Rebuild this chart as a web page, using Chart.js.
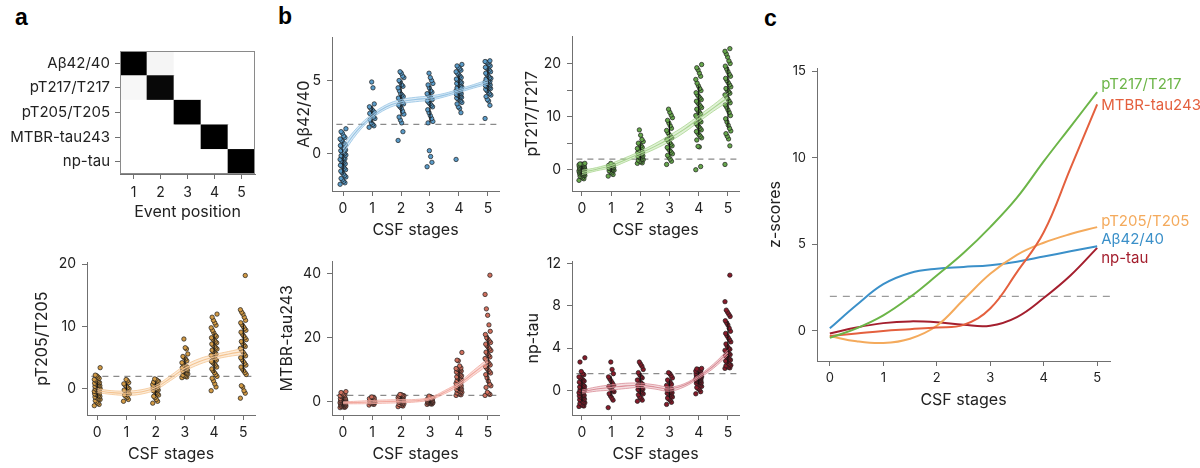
<!DOCTYPE html>
<html lang="en">
<head>
<meta charset="UTF-8">
<title>CSF stages</title>
<script src="https://cdn.jsdelivr.net/npm/chart.js@4.4.1/dist/chart.umd.min.js"></script>
<style>
  body { margin:0; background:#fff; width:1200px; height:468px; position:relative; overflow:hidden; }
  canvas { position:absolute; }
  .tag { position:absolute; font:bold 23px "Liberation Sans", Arial, sans-serif; color:#000; }
</style>
</head>
<body>
<div class="tag" style="left:15px;top:4px">a</div>
<div class="tag" style="left:278px;top:3px">b</div>
<div class="tag" style="left:764px;top:5px">c</div>
<script>
// ---- data ----
const stages = [0, 1, 2, 3, 4, 5];
const fitX = [0, 0.5, 1, 1.5, 2, 2.5, 3, 3.5, 4, 4.5, 5];

// panel a: event position probabilities (rows = markers, cols = positions)
const markers = ['Aβ42/40', 'pT217/T217', 'pT205/T205', 'MTBR-tau243', 'np-tau'];
const positions = ['1', '2', '3', '4', '5'];
const eventProb = [
  [1, 0.04, 0, 0, 0],
  [0.03, 0.97, 0, 0, 0],
  [0, 0, 1, 0, 0],
  [0, 0, 0, 1, 0],
  [0, 0, 0, 0, 1]
];

// panel b: individual values per CSF stage
const abVals = [
  [-2.1,-2.0,-1.9,-1.8,-1.7,-1.6,-1.5,-1.4,-1.3,-1.2,-1.1,-1.0,-0.9,-0.85,-0.8,-0.7,-0.6,-0.55,-0.5,-0.4,-0.35,-0.3,-0.2,-0.15,-0.1,0,0.05,0.1,0.2,0.25,0.3,0.4,0.5,0.55,0.6,0.7,0.8,0.9,1.0,1.1,1.2,1.4,1.5,1.7],
  [1.8,1.9,2.0,2.1,2.3,2.4,2.5,2.6,2.7,2.75,2.8,2.9,3.0,3.1,3.2,3.4,4.5,4.9],
  [0.9,1.5,2.1,2.3,2.5,2.7,2.9,3.1,3.2,3.3,3.4,3.5,3.6,3.7,3.8,3.9,4.0,4.1,4.3,4.5,4.6,4.7,4.9,5.0,5.2,5.3,5.5,5.6],
  [-0.9,-0.6,-0.2,0.2,2.1,2.2,2.4,2.6,2.8,3.0,3.2,3.3,3.4,3.5,3.6,3.7,3.8,3.9,4.0,4.1,4.2,4.3,4.5,4.7,4.8,5.0,5.2,5.5],
  [-0.4,2.8,3.1,3.2,3.4,3.5,3.6,3.7,3.75,3.8,3.85,3.9,3.95,4.0,4.05,4.1,4.15,4.2,4.25,4.3,4.35,4.4,4.45,4.5,4.55,4.6,4.7,4.75,4.8,4.85,4.9,5.0,5.05,5.1,5.2,5.3,5.4,5.5,5.6,5.7,5.8,5.9,6.0,6.1],
  [2.4,3.3,3.6,3.7,3.9,4.0,4.1,4.2,4.3,4.4,4.45,4.5,4.55,4.6,4.65,4.7,4.75,4.8,4.85,4.9,4.95,5.0,5.05,5.1,5.15,5.2,5.3,5.4,5.5,5.6,5.7,5.8,5.85,5.9,6.0,6.1,6.2,6.25,6.3,6.35]
];
const t217Vals = [
  [-2.0,-1.7,-1.5,-1.3,-1.2,-1.1,-1.0,-0.9,-0.8,-0.75,-0.7,-0.6,-0.55,-0.5,-0.45,-0.4,-0.35,-0.3,-0.25,-0.2,-0.15,-0.1,-0.05,0,0.05,0.1,0.15,0.2,0.25,0.3,0.35,0.4,0.5,0.55,0.6,0.7,0.75,0.8,0.9,0.95,1.0,1.05,1.1,1.2],
  [-1.2,-0.9,-0.6,-0.4,-0.2,-0.1,0,0.1,0.2,0.3,0.4,0.5,0.6,0.7,0.8,0.9,1.0,1.2],
  [1.2,1.3,1.5,1.6,1.8,1.9,2.0,2.2,2.3,2.5,2.6,2.8,2.9,3.0,3.2,3.3,3.5,3.6,3.8,4.0,4.2,4.5,4.8,5.0,5.3,5.7,6.5,7.5],
  [1.0,1.6,2.0,2.4,2.7,3.0,3.3,3.6,3.9,4.2,4.5,4.8,5.1,5.4,5.7,6.0,6.3,6.6,7.0,7.4,7.8,8.3,8.8,9.3,9.8,10.3,10.8,11.4],
  [0,0.6,4.3,4.4,5.6,6.0,6.3,6.6,6.9,7.2,7.5,7.8,8.1,8.4,8.7,9.0,9.3,9.6,9.9,10.2,10.5,10.8,11.1,11.4,11.7,12.0,12.3,12.6,12.9,13.2,13.5,13.8,14.1,14.5,14.9,15.3,15.8,16.3,17.0,17.6,18.2,18.8,19.2,19.8],
  [1.0,4.5,5.8,6.3,6.8,7.3,7.8,8.4,9.0,9.6,10.2,10.8,11.3,11.8,12.2,12.6,13.0,13.4,13.8,14.1,14.4,14.7,15.0,15.3,15.6,16.0,16.4,16.8,17.2,17.6,18.0,18.5,19.0,19.5,20.0,20.5,21.2,21.8,22.3,22.8]
];
const t205Vals = [
  [-2.7,-2.5,-2.3,-2.1,-1.9,-1.7,-1.6,-1.5,-1.4,-1.3,-1.2,-1.1,-1.0,-0.9,-0.8,-0.7,-0.6,-0.5,-0.45,-0.4,-0.3,-0.2,-0.1,0,0.05,0.1,0.2,0.3,0.4,0.5,0.6,0.7,0.8,0.9,1.0,1.1,1.2,1.4,1.5,1.7,1.9,2.1,2.2,3.4],
  [-2.0,-1.7,-1.4,-1.2,-1.0,-0.8,-0.6,-0.5,-0.3,-0.2,0,0.2,0.4,0.6,0.8,1.0,1.3,1.5],
  [-2.3,-2.0,-1.7,-1.4,-1.2,-1.0,-0.8,-0.6,-0.4,-0.3,-0.2,-0.1,0,0.1,0.2,0.3,0.4,0.5,0.6,0.7,0.8,0.9,1.0,1.1,1.2,1.3,1.5,1.6],
  [1.8,1.9,2.0,2.1,2.2,2.4,2.5,2.6,2.8,2.9,3.0,3.1,3.2,3.3,3.4,3.5,3.6,3.8,4.0,4.2,4.5,4.8,5.0,5.2,5.6,6.4,6.6,8.0],
  [-0.3,0.3,0.8,1.3,1.7,2.0,2.3,2.6,2.9,3.2,3.5,3.8,4.0,4.2,4.4,4.6,4.8,5.0,5.2,5.4,5.6,5.8,6.0,6.2,6.4,6.6,6.8,7.0,7.2,7.4,7.6,7.8,8.0,8.2,8.4,8.6,9.0,9.4,9.8,10.2,10.6,11.0,11.5,12.0],
  [-1.5,-0.7,-0.3,0.3,0.5,2.3,2.6,2.9,3.2,3.5,3.8,4.1,4.4,4.7,5.0,5.3,5.6,5.9,6.2,6.5,6.8,7.0,7.3,7.6,7.9,8.2,8.5,8.8,9.1,9.4,9.7,10.0,10.3,10.6,11.0,11.5,12.0,12.3,12.7,18.2]
];
const mtbrVals = [
  [-1.8,-1.7,-1.6,-1.5,-1.4,-1.3,-1.2,-1.1,-1.0,-0.95,-0.9,-0.8,-0.7,-0.65,-0.6,-0.5,-0.45,-0.4,-0.3,-0.2,-0.15,-0.1,0,0.05,0.1,0.2,0.3,0.4,0.5,0.6,0.7,0.8,0.9,1.0,1.1,1.3,1.5,1.7,1.9,2.1,2.3,2.6,2.9,3.2],
  [-1.0,-0.8,-0.6,-0.5,-0.3,-0.2,-0.1,0,0.1,0.3,0.4,0.6,0.8,0.9,1.0,1.2,1.4,1.5],
  [-1.5,-1.3,-1.1,-1.0,-0.8,-0.6,-0.5,-0.3,-0.2,0,0.1,0.2,0.4,0.5,0.6,0.8,0.9,1.0,1.2,1.3,1.5,1.6,1.7,1.8,1.9,2.0,2.2,2.3],
  [-0.8,-0.7,-0.6,-0.5,-0.4,-0.3,-0.25,-0.2,-0.1,-0.05,0,0.1,0.15,0.2,0.3,0.35,0.4,0.5,0.6,0.7,0.8,0.9,1.0,1.1,1.3,1.4,1.6,1.8],
  [2.0,2.2,2.4,2.6,2.8,3.0,3.2,3.4,3.6,3.8,4.0,4.2,4.4,4.6,4.8,5.0,5.2,5.4,5.6,5.8,6.0,6.2,6.4,6.6,6.8,7.0,7.2,7.5,7.8,8.1,8.4,8.7,9.0,9.3,9.6,9.8,10.0,10.2,10.4,10.6,11.2,12.8,13.0,15.4],
  [2.0,2.3,2.6,3.0,4.5,5.0,5.5,6.5,7.5,8.5,9.0,9.5,10.0,10.5,11.0,11.5,12.0,12.5,13.0,13.5,14.0,14.5,15.0,15.5,16.0,16.5,17.0,17.5,18.0,18.5,19.0,19.5,20.0,21.0,22.0,24.0,27.0,29.0,33.5,39.5]
];
const npVals = [
  [-1.5,-1.45,-1.4,-1.3,-1.2,-1.15,-1.1,-1.0,-0.9,-0.85,-0.8,-0.7,-0.65,-0.6,-0.5,-0.45,-0.4,-0.3,-0.25,-0.2,-0.1,-0.05,0,0.05,0.1,0.15,0.2,0.3,0.35,0.4,0.5,0.6,0.7,0.8,0.9,1.0,1.1,1.2,1.3,1.5,1.6,1.8,2.7,3.1],
  [-1.6,-0.9,-0.7,-0.5,-0.3,-0.1,0,0.1,0.3,0.4,0.5,0.7,0.9,1.1,1.3,1.6,2.0,2.7],
  [-1.0,-0.9,-0.7,-0.6,-0.4,-0.3,-0.2,-0.1,0,0.1,0.15,0.2,0.3,0.4,0.5,0.6,0.7,0.8,0.9,1.0,1.2,1.3,1.5,1.7,2.0,2.3,2.5,2.7],
  [-1.3,-1.1,-0.9,-0.8,-0.7,-0.6,-0.5,-0.4,-0.3,-0.25,-0.2,-0.1,-0.05,0,0.1,0.15,0.2,0.3,0.4,0.5,0.6,0.8,0.9,1.0,1.2,1.4,1.6,1.7],
  [-0.3,-0.1,0.1,0.2,0.3,0.4,0.5,0.6,0.65,0.7,0.75,0.8,0.85,0.9,0.95,1.0,1.0,1.05,1.1,1.1,1.15,1.2,1.2,1.25,1.3,1.3,1.35,1.4,1.4,1.45,1.5,1.55,1.6,1.6,1.65,1.7,1.75,1.8,1.85,1.9,1.95,2.0,2.05,2.1],
  [2.1,2.15,2.2,2.3,2.35,2.4,2.5,2.6,2.7,2.8,2.9,3.0,3.1,3.2,3.3,3.4,3.5,3.6,3.7,3.8,3.9,4.0,4.2,4.4,4.6,4.8,5.0,5.2,5.4,5.6,5.9,6.2,6.4,6.6,7.0,7.2,7.4,7.6,8.4,10.9]
];

// fitted trajectories (centre) and half-width of their bands, at fitX
const abFit = [0.3,1.6,2.55,3.2,3.55,3.7,3.8,4.0,4.3,4.6,4.9];
const abBand = [0.3,0.2,0.15,0.15,0.15,0.15,0.15,0.12,0.12,0.12,0.15];
const t217Fit = [-0.5,0.1,0.8,1.9,3.1,4.4,5.9,7.6,9.6,11.6,13.6];
const t217Band = [0.4,0.3,0.4,0.4,0.4,0.5,0.6,0.6,0.6,0.6,0.8];
const t205Fit = [-0.3,-0.6,-0.7,-0.5,0.2,1.7,3.3,4.4,5.1,5.6,6.0];
const t205Band = [0.3,0.3,0.35,0.35,0.35,0.4,0.45,0.45,0.4,0.4,0.5];
const mtbrFit = [-0.3,-0.2,-0.05,0.1,0.2,0.35,1.0,3.0,5.5,9.0,12.5];
const mtbrBand = [0.3,0.4,0.5,0.5,0.5,0.4,0.4,0.5,0.6,0.8,1.0];
const npFit = [-0.1,0.15,0.3,0.45,0.5,0.35,0.15,0.5,1.3,2.3,3.6];
const npBand = [0.15,0.2,0.25,0.25,0.2,0.2,0.2,0.15,0.15,0.2,0.25];

// panel c: z-score trajectories at fitX
const zAb = [0.15,1.5,2.7,3.35,3.6,3.7,3.8,4.0,4.3,4.6,4.9];
const zT217 = [-0.4,0.15,0.9,1.95,3.2,4.5,6.0,7.7,9.8,11.8,13.8];
const zT205 = [-0.3,-0.6,-0.7,-0.45,0.3,1.8,3.3,4.4,5.1,5.6,6.0];
const zMtbr = [-0.3,-0.15,0.0,0.1,0.2,0.35,1.3,3.4,5.7,9.4,13.1];
const zNp = [-0.15,0.2,0.45,0.55,0.5,0.35,0.3,0.8,1.9,3.2,4.8];

// ---- drawing ----
Chart.defaults.font.family = "Inter, 'Noto Sans', sans-serif";
Chart.defaults.color = '#222';
const AXIS = '#707070';

function place(plot, yw, xh, padT, padR) {
  const c = document.createElement('canvas');
  c.width = plot[2] - plot[0] + yw + padR;
  c.height = plot[3] - plot[1] + padT + xh;
  c.style.left = (plot[0] - yw) + 'px';
  c.style.top = (plot[1] - padT) + 'px';
  document.body.appendChild(c);
  return c;
}

function axisX(min, max, xh, titlePad, tickSize, tickPad) {
  return {
    type: 'linear', min: min, max: max,
    afterFit: s => { s.height = xh; },
    afterBuildTicks: s => { s.ticks = stages.map(v => ({ value: v })); },
    grid: { drawOnChartArea: false, tickLength: 5, color: AXIS },
    border: { color: AXIS },
    ticks: { padding: tickPad, font: { size: tickSize } },
    title: { display: true, text: 'CSF stages', font: { size: 16 }, padding: { top: 0, bottom: titlePad } }
  };
}

function axisY(min, max, yw, ticks, labels, title, titlePad, tickSize) {
  return {
    type: 'linear', min: min, max: max,
    afterFit: s => { s.width = yw; },
    afterBuildTicks: s => { s.ticks = ticks.map(v => ({ value: v })); },
    grid: { drawOnChartArea: false, tickLength: 5, color: AXIS },
    border: { color: AXIS },
    ticks: { padding: 6, font: { size: tickSize }, callback: v => labels.includes(v) ? String(v) : '' },
    title: { display: true, text: title, font: { size: 16 }, padding: { top: titlePad, bottom: 0 } }
  };
}

// spread points sideways within a stage column
function jit(i) { return (((i * 53) % 19) / 18 - 0.5) * 0.2; }

function pct(sorted, q) {
  const k = (sorted.length - 1) * q, a = Math.floor(k);
  return sorted[a] + (sorted[Math.min(a + 1, sorted.length - 1)] - sorted[a]) * (k - a);
}

function scatterPanel(p) {
  const cv = place(p.plot, p.yw, 50, 4, 6);
  const pts = [], bars = [];
  p.vals.forEach((arr, s) => {
    arr.forEach((v, i) => pts.push({ x: stages[s] + jit(i), y: v }));
    const sorted = arr.slice().sort((a, b) => a - b);
    bars.push({ x: stages[s], y: pct(sorted, 0.16) }, { x: stages[s], y: pct(sorted, 0.84) }, { x: stages[s], y: null });
  });
  const mid = p.fit.map((v, i) => ({ x: fitX[i], y: v }));
  const up = p.fit.map((v, i) => ({ x: fitX[i], y: v + p.band[i] }));
  const lo = p.fit.map((v, i) => ({ x: fitX[i], y: v - p.band[i] }));
  const smooth = { pointRadius: 0, tension: 0.4 };
  new Chart(cv, {
    type: 'scatter',
    data: { datasets: [
      Object.assign({ type: 'line', data: mid, borderColor: p.line, borderWidth: 1.1, order: 1 }, smooth),
      Object.assign({ type: 'line', data: up, borderColor: p.line, borderWidth: 0.8, fill: '+1', backgroundColor: p.bandFill, order: 2 }, smooth),
      Object.assign({ type: 'line', data: lo, borderColor: p.line, borderWidth: 0.8, order: 2 }, smooth),
      { type: 'line', data: bars, borderColor: '#111', borderWidth: 1, pointRadius: 0, spanGaps: false, order: 3 },
      { data: pts, pointRadius: 2.2, backgroundColor: p.fill, borderColor: '#1c1c1c', borderWidth: 0.7, order: 4 },
      { type: 'line', data: [{ x: p.x[0] + 0.15, y: p.thr }, { x: p.x[1], y: p.thr }], borderColor: '#8a8a8a',
        borderDash: [6, 5], borderWidth: 1.2, pointRadius: 0, order: 5 }
    ] },
    options: {
      responsive: false, animation: false, events: [],
      layout: { padding: { top: 4, right: 6 } },
      plugins: { legend: { display: false }, tooltip: { enabled: false } },
      scales: {
        x: axisX(p.x[0], p.x[1], 50, p.xtPad, 14, 4),
        y: axisY(p.y[0], p.y[1], p.yw, p.ticks, p.labels, p.title, p.ytPad, 14)
      }
    }
  });
}

// panel a heatmap
(function () {
  const plot = [120, 41, 255, 174];
  const cv = place(plot, 110, 50, 4, 5);
  const grey = pr => { const v = Math.round(255 * (1 - pr)); return `rgb(${v},${v},${v})`; };
  const frame = {
    id: 'frame',
    afterDatasetsDraw(chart) {
      const a = chart.chartArea, ctx = chart.ctx;
      ctx.save(); ctx.strokeStyle = '#8a8a8a'; ctx.lineWidth = 1;
      ctx.strokeRect(a.left + 0.5, a.top + 0.5, a.right - a.left - 1, a.bottom - a.top - 1);
      ctx.restore();
    }
  };
  new Chart(cv, {
    type: 'bar',
    data: {
      labels: positions,
      datasets: markers.map((m, r) => ({
        label: m, data: positions.map(() => 1), backgroundColor: eventProb[r].map(grey),
        borderWidth: 0, barPercentage: 1, categoryPercentage: 1
      })).reverse()
    },
    options: {
      responsive: false, animation: false, events: [],
      layout: { padding: { top: 4, right: 5 } },
      plugins: { legend: { display: false }, tooltip: { enabled: false } },
      scales: {
        x: {
          stacked: true,
          afterFit: s => { s.height = 50; },
          grid: { offset: false, drawOnChartArea: false, tickLength: 5, color: AXIS },
          border: { color: AXIS },
          ticks: { padding: 5, font: { size: 14 } },
          title: { display: true, text: 'Event position', font: { size: 16 }, padding: { top: 0, bottom: 2 } }
        },
        y: {
          stacked: true, min: 0, max: 5,
          afterFit: s => { s.width = 110; },
          afterBuildTicks: s => { s.ticks = [0.5, 1.5, 2.5, 3.5, 4.5].map(v => ({ value: v })); },
          grid: { drawOnChartArea: false, tickLength: 5, color: AXIS },
          border: { color: AXIS },
          ticks: { padding: 5, font: { size: 15 }, callback: v => markers[4 - Math.floor(v)] }
        }
      }
    },
    plugins: [frame]
  });
})();

scatterPanel({ plot: [87, 252, 255, 415], yw: 62, ytPad: 8, xtPad: 1, x: [-0.35, 5.4], y: [-4.2, 20.3],
  ticks: [0, 10, 20], labels: [0, 10, 20], title: 'pT205/T205', vals: t205Vals, fit: t205Fit, band: t205Band, thr: 2,
  fill: '#d29a45', line: '#f4c491', bandFill: 'rgba(246,200,150,0.35)' });

scatterPanel({ plot: [332, 27, 499, 191], yw: 42, ytPad: 5, xtPad: 1, x: [-0.38, 5.38], y: [-2.56, 7.95],
  ticks: [0, 5], labels: [0, 5], title: 'Aβ42/40', vals: abVals, fit: abFit, band: abBand, thr: 2,
  fill: '#5a9bc8', line: '#96c4e4', bandFill: 'rgba(156,199,230,0.35)' });

scatterPanel({ plot: [572, 26, 739, 191], yw: 57, ytPad: 8, xtPad: 1, x: [-0.34, 5.38], y: [-4, 25.1],
  ticks: [0, 5, 10, 15, 20], labels: [0, 10, 20], title: 'pT217/T217', vals: t217Vals, fit: t217Fit, band: t217Band, thr: 2,
  fill: '#66a64c', line: '#a9d68f', bandFill: 'rgba(169,214,143,0.35)' });

scatterPanel({ plot: [332, 251, 499, 415], yw: 60, ytPad: 6, xtPad: 1, x: [-0.38, 5.38], y: [-4.1, 43.8],
  ticks: [0, 20, 40], labels: [0, 20, 40], title: 'MTBR-tau243', vals: mtbrVals, fit: mtbrFit, band: mtbrBand, thr: 2,
  fill: '#cf6f5d', line: '#f2a99f', bandFill: 'rgba(242,169,160,0.35)' });

scatterPanel({ plot: [572, 251, 739, 415], yw: 57, ytPad: 9, xtPad: 1, x: [-0.34, 5.38], y: [-2.3, 12.2],
  ticks: [0, 4, 8, 12], labels: [0, 4, 8, 12], title: 'np-tau', vals: npVals, fit: npFit, band: npBand, thr: 1.6,
  fill: '#861b2a', line: '#da8e98', bandFill: 'rgba(218,142,152,0.3)' });

// panel c
(function () {
  const plot = [817, 68, 1110, 361];
  const cv = place(plot, 57, 50, 24, 90);
  const names = ['pT217/T217', 'MTBR-tau243', 'pT205/T205', 'Aβ42/40', 'np-tau'];
  const series = [zT217, zMtbr, zT205, zAb, zNp];
  const colors = ['#6cb548', '#e4603e', '#f4aa5c', '#3b90c9', '#a41f2e'];
  const labelAt = [14.25, 13.05, 6.3, 5.27, 4.17];
  const endLabels = {
    id: 'endLabels',
    afterDatasetsDraw(chart) {
      const ctx = chart.ctx, xs = chart.scales.x, ys = chart.scales.y;
      ctx.save();
      ctx.font = "15px Inter, 'Noto Sans', sans-serif";
      ctx.textBaseline = 'middle';
      names.forEach((n, i) => {
        ctx.fillStyle = colors[i];
        ctx.fillText(n, xs.getPixelForValue(5) + 4, ys.getPixelForValue(labelAt[i]));
      });
      ctx.restore();
    }
  };
  const ds = series.map((s, i) => ({
    type: 'line', data: s.map((v, k) => ({ x: fitX[k], y: v })), borderColor: colors[i], borderWidth: 2,
    pointRadius: 0, tension: 0.4, clip: false
  }));
  ds.push({ type: 'line', data: [{ x: 0, y: 2 }, { x: 5.24, y: 2 }], borderColor: '#9a9a9a', borderDash: [7, 6],
    borderWidth: 1.3, pointRadius: 0, order: 5 });
  new Chart(cv, {
    type: 'scatter',
    data: { datasets: ds },
    options: {
      responsive: false, animation: false, events: [],
      layout: { padding: { top: 24, right: 90 } },
      plugins: { legend: { display: false }, tooltip: { enabled: false } },
      scales: {
        x: axisX(-0.24, 5.24, 50, 1, 13, 4),
        y: axisY(-1.74, 15.2, 57, [0, 5, 10, 15], [0, 5, 10, 15], 'z-scores', 6, 13)
      }
    },
    plugins: [endLabels]
  });
})();
</script>
</body>
</html>
